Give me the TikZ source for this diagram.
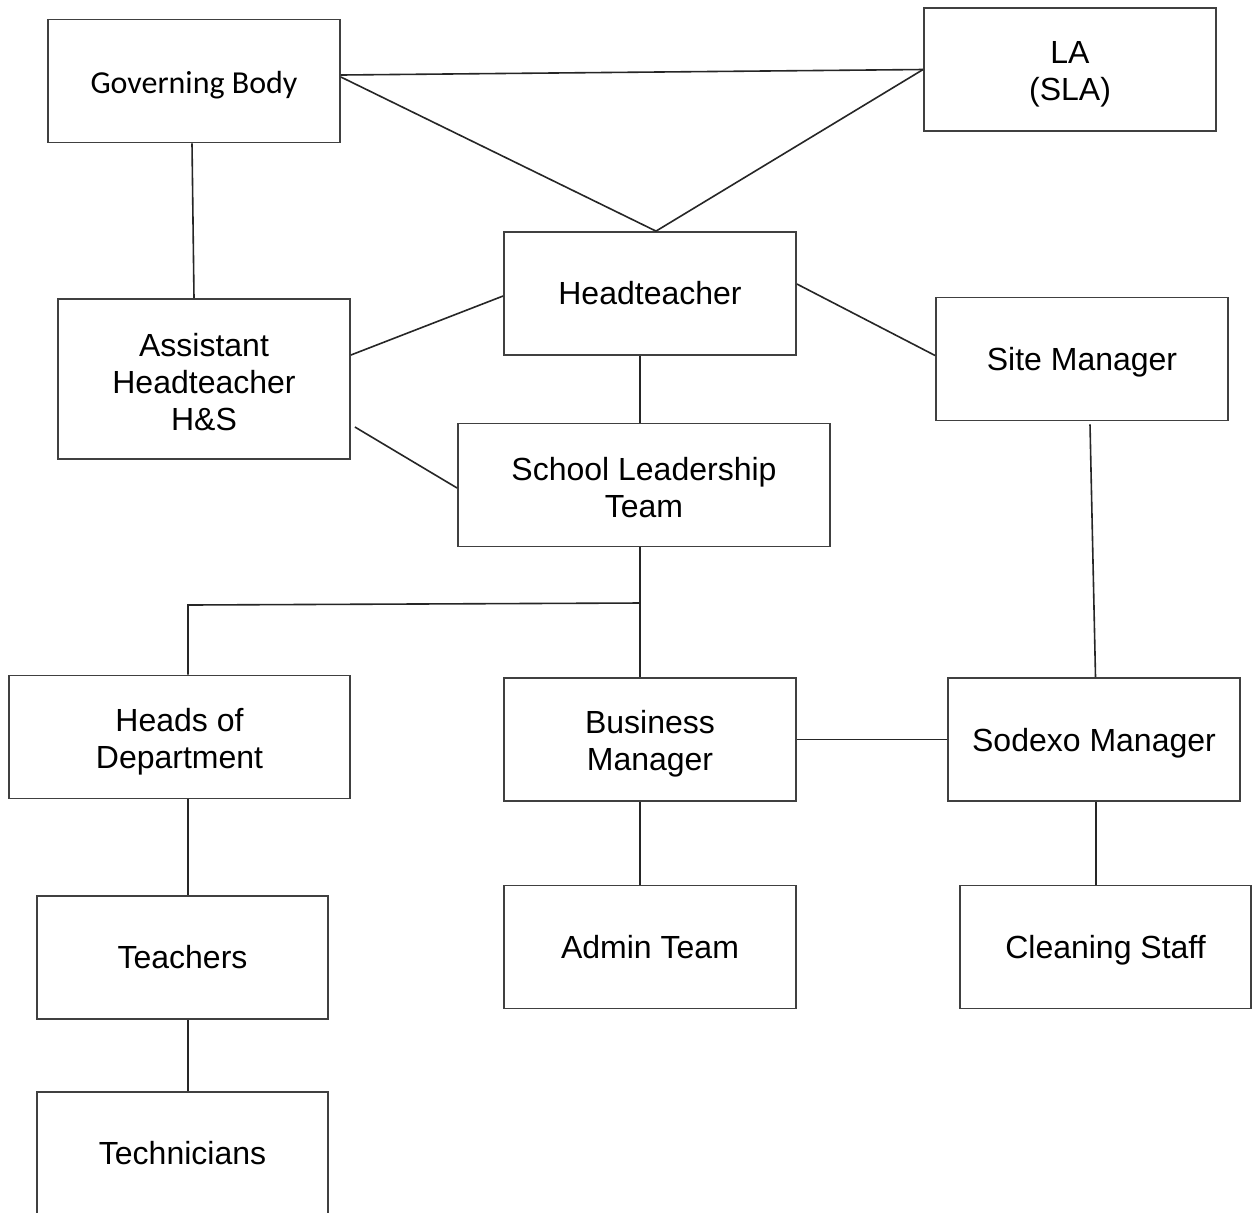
\documentclass[tikz,border=0pt]{standalone}
\usepackage{fontspec}
\setmainfont{Liberation Sans}
\newfontfamily\calfont{Carlito}
\usetikzlibrary{calc}
\tikzset{
  box/.style={draw=black!75, line width=0.9pt, rectangle, align=center, inner sep=0pt,
    minimum width=146pt, minimum height=61.5pt, font=\fontsize{16}{18.5}\selectfont},
  lbl/.style={align=center, inner sep=0pt, font=\fontsize{16}{18.5}\selectfont},
  boxt/.style 2 args={box, label={[lbl, yshift=#1]center:#2}},
  conn/.style={draw=black!85, line width=0.8pt}
}
\begin{document}
\begin{tikzpicture}[x=0.5pt,y=-0.5pt]
\useasboundingbox (0,0) rectangle (1252,1212);
\clip (0,0) rectangle (1252,1212);
\fill[white] (0,0) rectangle (1252,1212);
% boxes
\node[boxt={-2pt}{\calfont Governing Body}] (gb) at (194,81) {};
\node[boxt={-2.5pt}{LA\\(SLA)}] (la) at (1070,69.5) {};
\node[box] (ht) at (650,293.5) {Headteacher};
\node[boxt={-1.5pt}{Assistant\\Headteacher\\H\&S}, minimum height=80pt] (ah) at (204,379) {};
\node[boxt={-1.5pt}{Site Manager}] (sm) at (1082,359) {};
\node[boxt={-1.5pt}{School Leadership\\Team}, minimum width=186pt] (slt) at (644,485) {};
\node[boxt={-2.5pt}{Heads of\\Department}, minimum width=170.5pt] (hod) at (179.5,737) {};
\node[boxt={-2pt}{Business\\Manager}] (bm) at (650,739.5) {};
\node[boxt={-2pt}{Sodexo Manager}] (sod) at (1094,739.5) {};
\node[box, minimum width=145.5pt] (tea) at (182.5,957.5) {Teachers};
\node[box] (adm) at (650,947) {Admin Team};
\node[boxt={-1.5pt}{Cleaning Staff}, minimum width=145.5pt] (cle) at (1105.5,947) {};
\node[box, minimum width=145.5pt, minimum height=76pt] (tech) at (182.5,1168) {};
\node[lbl] (techt) at (182.5,1153) {Technicians};
% connectors
\draw[conn] ($(gb.east)+(0,-6)$) -- (la.west);
\draw[conn] ($(gb.east)+(0,-4)$) -- ($(ht.north)+(6,0)$) -- (la.west);
\draw[conn] ($(gb.south)+(-2,0)$) -- ($(ah.north)+(-10,0)$);
\draw[conn] ($(ht.west)+(0,2.5)$) -- ($(ah.east)+(0,-24)$);
\draw[conn] ($(ah.east)+(4,48)$) -- ($(slt.west)+(0,3)$);
\draw[conn] ($(ht.east)+(0,-9.5)$) -- ($(sm.west)+(0,-3.5)$);
\draw[conn] ($(ht.south)+(-10,0)$) -- ($(slt.north)+(-4,0)$);
\coordinate (br) at (640,603);
\draw[conn] ($(slt.south)+(-4,0)$) -- ($(bm.north)+(-10,0)$);
\draw[conn] (br) -- (188,605) -- ($(hod.north)+(8.5,0)$);
\draw[conn] ($(sm.south)+(8,3)$) -- ($(sod.north)+(1.5,0)$);
\draw[conn] (bm.east) -- (sod.west);
\draw[conn] ($(bm.south)+(-10,0)$) -- ($(adm.north)+(-10,0)$);
\draw[conn] ($(sod.south)+(2,0)$) -- ($(cle.north)+(-9.5,0)$);
\draw[conn] ($(hod.south)+(8.5,0)$) -- ($(tea.north)+(5.5,0)$);
\draw[conn] ($(tea.south)+(5.5,0)$) -- ($(tech.north)+(5.5,0)$);
\end{tikzpicture}
\end{document}
